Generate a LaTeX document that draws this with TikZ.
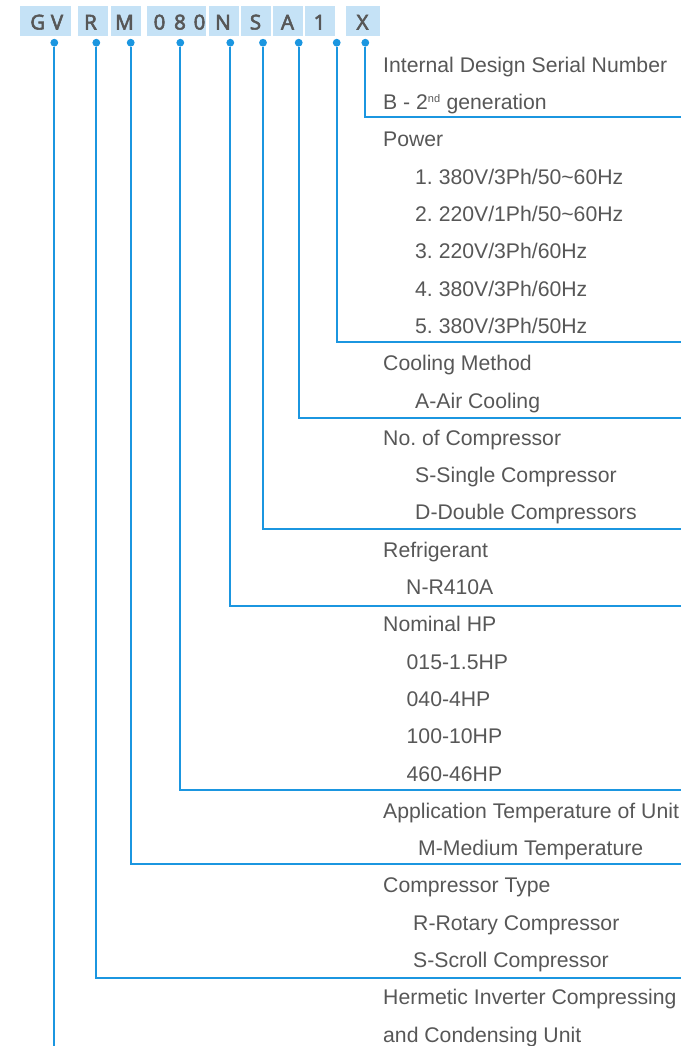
\documentclass[tikz,border=0pt]{standalone}
\usepackage{fontspec}
\setmainfont{Liberation Sans}
\newfontfamily\codefont{Noto Sans}[AutoFakeBold=2.6]
\definecolor{lineblue}{HTML}{1B96E0}
\definecolor{boxblue}{HTML}{C5E2F6}
\definecolor{txtgray}{HTML}{575757}
\frenchspacing
\tikzset{
  codebox/.style={fill=boxblue, draw=none, anchor=north west, minimum height=30pt, inner sep=0pt},
  codechar/.style={anchor=base, inner sep=0pt, text=txtgray, font=\codefont\bfseries\fontsize{20.5}{20}\selectfont},
  lbl/.style={anchor=base west, inner sep=0pt, text=txtgray, font=\fontsize{21.2}{24}\selectfont},
  conn/.style={draw=lineblue, line width=2pt},
  dotnode/.style={circle, fill=lineblue, inner sep=0pt, minimum size=7.8pt},
}
\begin{document}
\frenchspacing
\begin{tikzpicture}[x=1pt, y=-1pt]
\useasboundingbox (0,0) rectangle (684,1046);
% code boxes
\node[codebox, minimum width=51.7pt] (bGV) at (19.3,6) {};
\node[codebox, minimum width=30pt] (bR) at (77.3,6) {};
\node[codebox, minimum width=30pt] (bM) at (110.7,6) {};
\node[codebox, minimum width=59.3pt] (bHP) at (146.7,6) {};
\node[codebox, minimum width=30pt] (bN) at (208.7,6) {};
\node[codebox, minimum width=30pt] (bS) at (240.7,6) {};
\node[codebox, minimum width=30pt] (bA) at (272.7,6) {};
\node[codebox, minimum width=30pt] (b1) at (304.7,6) {};
\node[codebox, minimum width=34pt] (bX) at (345.3,6) {};
% code characters
\node[codechar] (cG) at (37.7,29.5) {G};
\node[codechar] (cV) at (57,29.5) {V};
\node[codechar] (cR) at (90.5,29.5) {R};
\node[codechar] (cM) at (124.5,29.5) {M};
\node[codechar] (c0a) at (159.5,29.5) {0};
\node[codechar] (c8) at (180,29.5) {8};
\node[codechar] (c0b) at (199.5,29.5) {0};
\node[codechar] (cN) at (223,29.5) {N};
\node[codechar] (cS) at (255.5,29.5) {S};
\node[codechar] (cA) at (287.5,29.5) {A};
\node[codechar] (c1) at (319.5,29.5) {1};
\node[codechar] (cX) at (362.5,29.5) {X};
% dots
\node[dotnode] (dGV) at (54.3,42.7) {};
\node[dotnode] (dR) at (96.3,42.7) {};
\node[dotnode] (dM) at (130.7,42.7) {};
\node[dotnode] (dHP) at (180.3,42.7) {};
\node[dotnode] (dN) at (230.3,42.7) {};
\node[dotnode] (dS) at (263,42.7) {};
\node[dotnode] (dA) at (298.7,42.7) {};
\node[dotnode] (d1) at (336.7,42.7) {};
\node[dotnode] (dX) at (365.3,42.7) {};
% line ends
\coordinate (eX) at (681,117);
\coordinate (e1) at (681,342.3);
\coordinate (eA) at (681,418.3);
\coordinate (eS) at (681,529);
\coordinate (eN) at (681,605.7);
\coordinate (eHP) at (681,790);
\coordinate (eM) at (681,864);
\coordinate (eR) at (681,978.3);
\coordinate (eGV) at (54.3,1046);
% connectors
\draw[conn] (dX) |- (eX);
\draw[conn] (d1) |- (e1);
\draw[conn] (dA) |- (eA);
\draw[conn] (dS) |- (eS);
\draw[conn] (dN) |- (eN);
\draw[conn] (dHP) |- (eHP);
\draw[conn] (dM) |- (eM);
\draw[conn] (dR) |- (eR);
\draw[conn] (dGV) -- (eGV);
% labels
\node[lbl] (t0) at (383,72.3) {Internal Design Serial Number};
\node[lbl] (t1) at (383,109.6) {B - 2\textsuperscript{\fontsize{11}{11}\selectfont nd} generation};
\node[lbl] (t2) at (383,146.9) {Power};
\node[lbl] (t3) at (415,184.2) {1. 380V/3Ph/50\textasciitilde60Hz};
\node[lbl] (t4) at (415,221.5) {2. 220V/1Ph/50\textasciitilde60Hz};
\node[lbl] (t5) at (415,258.8) {3. 220V/3Ph/60Hz};
\node[lbl] (t6) at (415,296.1) {4. 380V/3Ph/60Hz};
\node[lbl] (t7) at (415,333.4) {5. 380V/3Ph/50Hz};
\node[lbl] (t8) at (383,370.7) {Cooling Method};
\node[lbl] (t9) at (415,408.0) {A-Air Cooling};
\node[lbl] (t10) at (383,445.3) {No. of Compressor};
\node[lbl] (t11) at (415,482.6) {S-Single Compressor};
\node[lbl] (t12) at (415,519.9) {D-Double Compressors};
\node[lbl] (t13) at (383,557.2) {Refrigerant};
\node[lbl] (t14) at (406,594.5) {N-R410A};
\node[lbl] (t15) at (383,631.8) {Nominal HP};
\node[lbl] (t16) at (406.5,669.1) {015-1.5HP};
\node[lbl] (t17) at (406.5,706.4) {040-4HP};
\node[lbl] (t18) at (406.5,743.7) {100-10HP};
\node[lbl] (t19) at (406.5,781.0) {460-46HP};
\node[lbl] (t20) at (383,818.3) {Application Temperature of Unit};
\node[lbl] (t21) at (418,855.6) {M-Medium Temperature};
\node[lbl] (t22) at (383,892.9) {Compressor Type};
\node[lbl] (t23) at (413,930.2) {R-Rotary Compressor};
\node[lbl] (t24) at (413,967.5) {S-Scroll Compressor};
\node[lbl] (t25) at (383,1004.8) {Hermetic Inverter Compressing};
\node[lbl] (t26) at (383,1042.1) {and Condensing Unit};
\end{tikzpicture}
\end{document}
